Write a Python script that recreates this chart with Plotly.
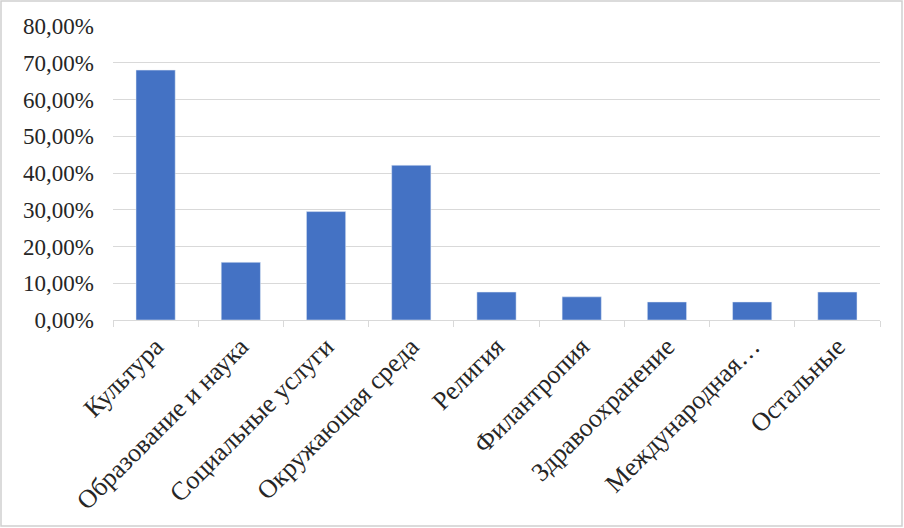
import plotly.graph_objects as go

categories = ["Культура", "Образование и наука", "Социальные услуги", "Окружающая среда",
              "Религия", "Филантропия", "Здравоохранение", "Международная…", "Остальные"]
values = [0.680, 0.157, 0.295, 0.421, 0.076, 0.063, 0.049, 0.049, 0.076]

W, H = 904, 528
L, R, T, B = 113, 24, 26, 208
pw, ph = W - L - R, H - T - B

def px(x):
    return (x - L) / pw

def py(y):
    return (H - B - y) / ph

fig = go.Figure(go.Bar(x=categories, y=values, marker_color="#4472C4", width=0.46))

fig.update_layout(
    width=W, height=H,
    margin=dict(l=L, r=R, t=T, b=B, autoexpand=False),
    paper_bgcolor="white", plot_bgcolor="white",
    separators=", ",
    font=dict(family="Liberation Serif, Times New Roman, serif", color="#262626"),
    showlegend=False,
    bargap=0.54,
)
fig.update_yaxes(range=[0, 0.8], dtick=0.1, tickformat=".2%", showgrid=True,
                 gridcolor="#d9d9d9", gridwidth=1, zeroline=False, showline=False,
                 ticks="", ticklabelstandoff=18, tickfont=dict(size=23, color="#262626"))
fig.update_xaxes(showgrid=False, showline=True, linecolor="#d9d9d9", linewidth=1,
                 ticks="outside", tickson="boundaries", ticklen=6, tickcolor="#d9d9d9",
                 tickangle=-45, tickfont=dict(size=26, color="#262626"))

fig.add_shape(type="rect", xref="paper", yref="paper",
              x0=px(1), x1=px(902), y0=py(526), y1=py(1),
              line=dict(color="#d0d0d0", width=1.5), fillcolor="rgba(0,0,0,0)")

fig.write_html("out.html",
               config={"displayModeBar": False},
               post_script="document.body.style.margin='0';document.body.style.overflow='hidden';")
